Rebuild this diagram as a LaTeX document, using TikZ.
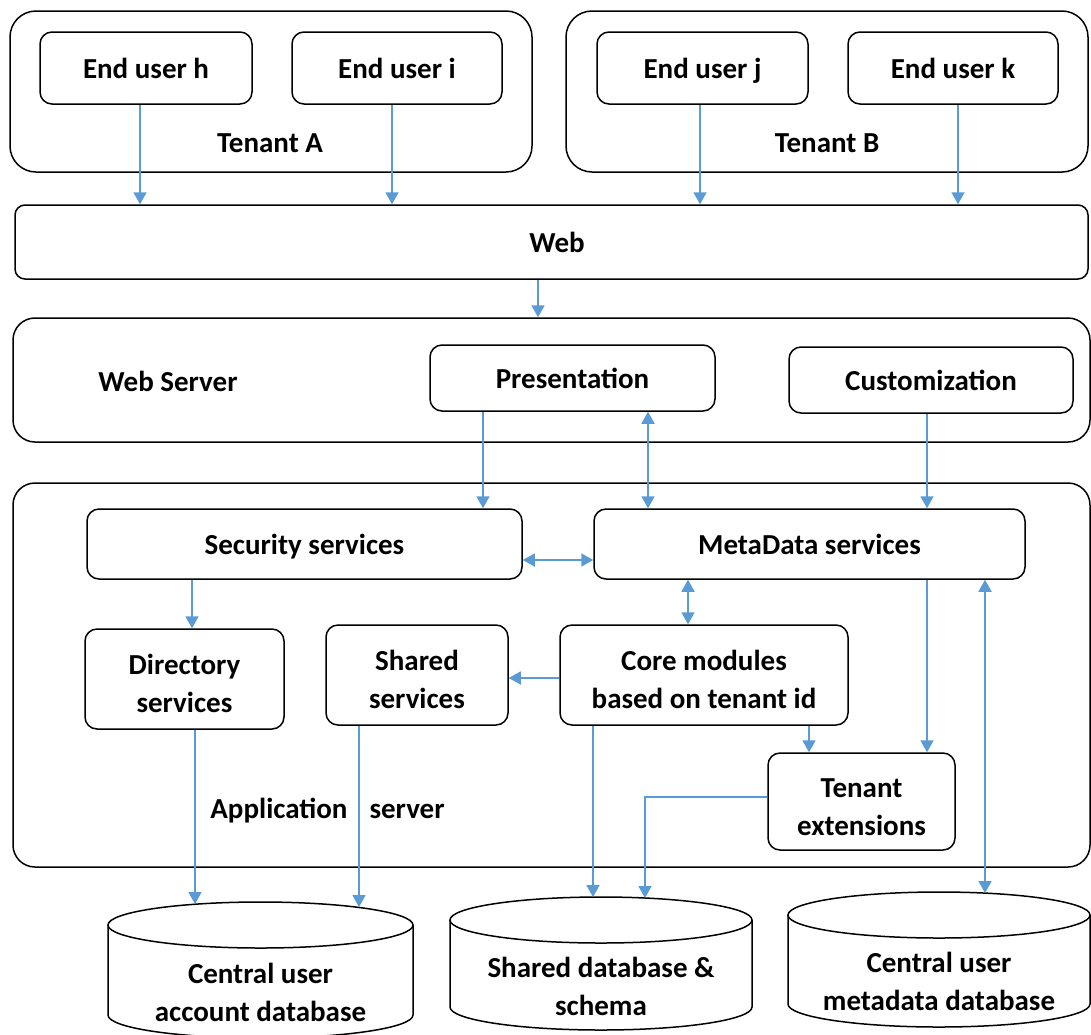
\documentclass[tikz,border=0pt]{standalone}
\usepackage{fontspec}
\setmainfont{Carlito}
\usetikzlibrary{arrows.meta}
\definecolor{arrblue}{HTML}{5B9BD5}
\newcommand{\dn}{\rule{0pt}{30pt}}
\begin{document}
\begin{tikzpicture}[x=1pt,y=-1pt,
  txt/.style={font=\bfseries\fontsize{29}{38}\selectfont, align=center, inner sep=0pt},
  one/.style={text height=23pt, text depth=3pt},
  box/.style={txt, draw, line width=1.5pt, rounded corners=12pt},
  cont/.style={draw, line width=1.5pt, rounded corners=26pt, inner sep=0pt},
  arr/.style={draw=arrblue, line width=1.8pt, -{Triangle[width=13pt,length=12pt]}},
  darr/.style={draw=arrblue, line width=1.8pt, {Triangle[width=13pt,length=12pt]}-{Triangle[width=13pt,length=12pt]}},
  cyl/.style={draw, line width=1.5pt}
]
\useasboundingbox (0,0) rectangle (1091,1034);

% Tenants
\node[cont, minimum width=522pt, minimum height=161pt] (tA) at (271,91.5) {};
\node[txt, one] (tAl) at (270,142) {Tenant A};
\node[box, one, minimum width=212pt, minimum height=72pt] (euh) at (146,68) {End user h};
\node[box, one, minimum width=210pt, minimum height=72pt] (eui) at (397,68) {End user i};
\node[cont, minimum width=522pt, minimum height=161pt] (tB) at (827,91.5) {};
\node[txt, one] (tBl) at (827,142) {Tenant B};
\node[box, one, minimum width=211pt, minimum height=72pt] (euj) at (702.5,68) {End user j};
\node[box, one, minimum width=210pt, minimum height=72pt] (euk) at (953,68) {End user k};

% Web
\node[cont, rounded corners=10pt, minimum width=1073pt, minimum height=74pt] (web) at (551.5,242) {};
\node[txt, one] (webl) at (557,242) {Web};

% Web server
\node[cont, rounded corners=22pt, minimum width=1077pt, minimum height=124pt] (ws) at (551.5,380) {};
\node[txt, one] (wsl) at (168,381) {Web Server};
\node[box, one, minimum width=285pt, minimum height=66pt] (pres) at (572.5,378) {Presentation};
\node[box, one, minimum width=284pt, minimum height=66pt] (cust) at (931,380) {Customization};

% Application server
\node[cont, rounded corners=22pt, minimum width=1077pt, minimum height=384pt] (as) at (551.5,675) {};
\node[txt, one] (asl) at (327.5,808) {Application\hspace{22pt}server};
\node[box, one, minimum width=435pt, minimum height=70pt] (sec) at (304.5,544) {Security services};
\node[box, one, minimum width=431pt, minimum height=70pt] (meta) at (809.5,544) {MetaData services};
\node[box, minimum width=199pt, minimum height=100pt] (dir) at (184.5,679) {\dn Directory\\services};
\node[box, minimum width=182pt, minimum height=100pt] (shs) at (417,675) {\dn Shared\\services};
\node[box, minimum width=288pt, minimum height=100pt] (core) at (704,675) {\dn Core modules\\based on tenant id};
\node[box, minimum width=187pt, minimum height=97pt] (text) at (861.5,801.5) {\dn Tenant\\extensions};

% Databases
\draw[cyl] (108,925) -- (108,1015) arc[start angle=180,end angle=360,x radius=152.5pt,y radius=23pt] -- (413,925);
\draw[cyl] (260.5,925) ellipse[x radius=152.5pt, y radius=23pt];
\node[txt] (db1) at (260.5,992) {Central user\\account database};
\draw[cyl] (450,920) -- (450,1007) arc[start angle=180,end angle=360,x radius=151pt,y radius=23pt] -- (752,920);
\draw[cyl] (601,920) ellipse[x radius=151pt, y radius=23pt];
\node[txt] (db2) at (601,986.5) {Shared database \&\\schema};
\draw[cyl] (788,915) -- (788,1004) arc[start angle=180,end angle=360,x radius=151pt,y radius=23pt] -- (1090,915);
\draw[cyl] (939,915) ellipse[x radius=151pt, y radius=23pt];
\node[txt] (db3) at (939,981.5) {Central user\\metadata database};

\coordinate (db1a) at (195,904);
\coordinate (db1b) at (359,907);
\coordinate (db2a) at (593,897);
\coordinate (db2b) at (645,898);
\coordinate (db3a) at (985,893);

% Arrows: users -> web
\draw[arr] ([xshift=-6pt]euh.south) -- ([xshift=-6pt]euh.south |- web.north);
\draw[arr] ([xshift=-5pt]eui.south) -- ([xshift=-5pt]eui.south |- web.north);
\draw[arr] ([xshift=-2.5pt]euj.south) -- ([xshift=-2.5pt]euj.south |- web.north);
\draw[arr] ([xshift=5pt]euk.south) -- ([xshift=5pt]euk.south |- web.north);

% web -> web server
\draw[arr] ([xshift=-13.5pt]web.south) -- ([xshift=-13.5pt]web.south |- ws.north);

% web server -> app server
\draw[arr] ([xshift=-89.5pt]pres.south) -- ([xshift=-89.5pt]pres.south |- sec.north);
\draw[darr] ([xshift=75.5pt]pres.south) -- ([xshift=75.5pt]pres.south |- meta.north);
\draw[arr] ([xshift=-4pt]cust.south) -- ([xshift=-4pt]cust.south |- meta.north);

% inside app server
\draw[darr] ([yshift=-16pt]sec.east) -- ([yshift=-16pt]sec.east -| meta.west);
\draw[arr] ([xshift=-112.5pt]sec.south) -- ([xshift=-112.5pt]sec.south |- dir.north);
\draw[darr] ([xshift=-121.5pt]meta.south) -- ([xshift=-121.5pt]meta.south |- core.north);
\draw[arr] ([yshift=-3pt]core.west) -- ([yshift=-3pt]core.west -| shs.east);
\draw[arr] ([xshift=105pt]core.south) -- ([xshift=105pt]core.south |- text.north);
\draw[arr] ([xshift=117.5pt]meta.south) -- ([xshift=117.5pt]meta.south |- text.north);

% to databases
\draw[arr] ([xshift=10.5pt]dir.south) -- (db1a);
\draw[arr] ([xshift=-58pt]shs.south) -- (db1b);
\draw[arr] ([xshift=-111pt]core.south) -- (db2a);
\draw[arr] ([yshift=4.5pt]text.west) -| (db2b);
\draw[darr] ([xshift=175.5pt]meta.south) -- (db3a);

\end{tikzpicture}
\end{document}
